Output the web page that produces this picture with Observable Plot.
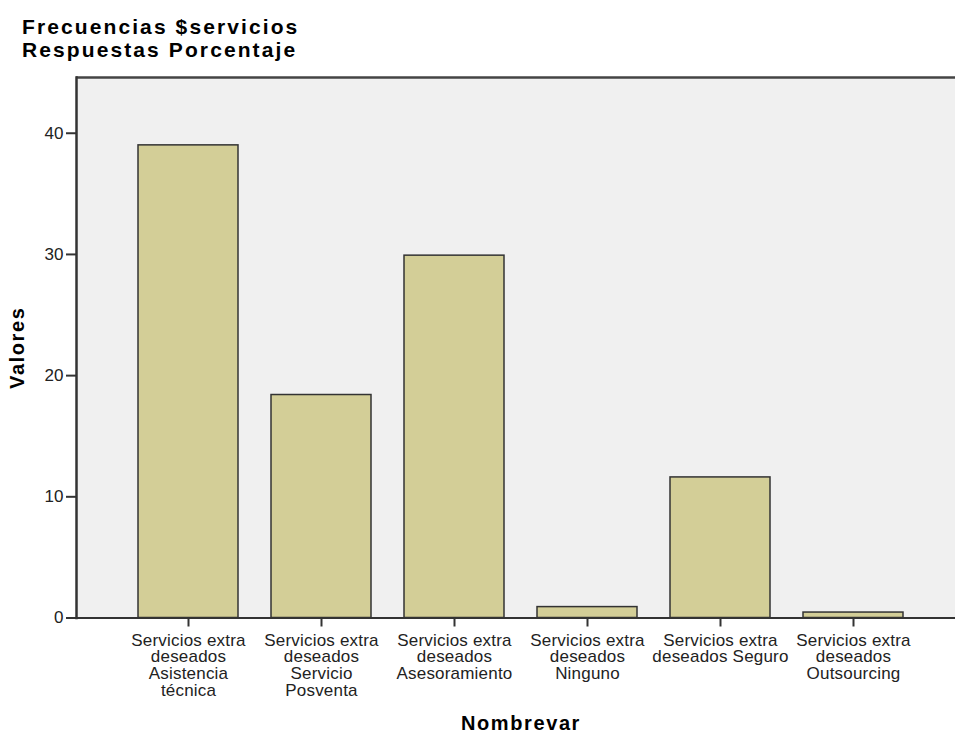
<!DOCTYPE html>
<html>
<head>
<meta charset="utf-8">
<script src="https://cdn.jsdelivr.net/npm/d3@7"></script>
<script src="https://cdn.jsdelivr.net/npm/@observablehq/plot@0.6"></script>
<style>
  body { margin: 0; background: #fff; font-family: "Liberation Sans", Arial, sans-serif; }
  #wrap { position: relative; width: 955px; height: 735px; }
  #title { position: absolute; left: 22px; top: 15px; font-weight: bold; font-size: 21px; line-height: 23px; letter-spacing: 2.1px; color: #000; }
  #chart { position: absolute; left: 0; top: 0; }
</style>
</head>
<body>
<div id="wrap">
  <div id="chart"></div>
  <div id="title">Frecuencias $servicios<br>Respuestas Porcentaje</div>
</div>
<script>
const categories = ["Asistencia técnica", "Servicio Posventa", "Asesoramiento", "Ninguno", "Seguro", "Outsourcing"];
const values = [39.0, 18.4, 29.9, 0.9, 11.6, 0.45];
const tickLabels = [
  "Servicios extra\ndeseados\nAsistencia\ntécnica",
  "Servicios extra\ndeseados\nServicio\nPosventa",
  "Servicios extra\ndeseados\nAsesoramiento",
  "Servicios extra\ndeseados\nNinguno",
  "Servicios extra\ndeseados Seguro",
  "Servicios extra\ndeseados\nOutsourcing"
];
const yTicks = [0, 10, 20, 30, 40];
const yMax = 44.6;
const yLabel = "Valores";
const xLabel = "Nombrevar";

const data = categories.map((c, i) => ({cat: c, value: values[i]}));
const labelOf = new Map(categories.map((c, i) => [c, tickLabels[i]]));

const plot = Plot.plot({
  width: 955,
  height: 735,
  marginLeft: 76,
  marginRight: 0,
  marginTop: 77,
  marginBottom: 117.5,
  style: {fontFamily: "'Liberation Sans', Arial, sans-serif", background: "#fff"},
  x: {domain: categories, range: [120, 921.6], paddingInner: 0.25, paddingOuter: 0.125, align: 0.5},
  y: {domain: [0, yMax]},
  marks: [
    Plot.frame({fill: "#f0f0f0", stroke: null}),
    Plot.barY(data, {x: "cat", y: "value", fill: "#d3ce97", stroke: "#333", strokeWidth: 1.5, inset: 0}),
    Plot.ruleY([yMax], {stroke: "#444", strokeWidth: 2.5}),
    Plot.ruleY([0], {stroke: "#333", strokeWidth: 2}),
    Plot.frame({anchor: "left", stroke: "#333", strokeWidth: 2.5}),
    Plot.axisY({ticks: yTicks, tickSize: 10, tickPadding: 3, fontSize: 17, stroke: "#333", strokeWidth: 2, fill: "#222", label: null}),
    Plot.axisX({tickSize: 9, tickPadding: 7, fontSize: 17, lineHeight: 0.98, stroke: "#333", strokeWidth: 2, fill: "#222", label: null, tickFormat: d => labelOf.get(d)}),
    Plot.text([yLabel], {frameAnchor: "left", textAnchor: "middle", lineAnchor: "middle", dx: -59, rotate: -90, fontWeight: "bold", fontSize: 20, fill: "#000"}),
    Plot.text([xLabel], {frameAnchor: "bottom", textAnchor: "middle", lineAnchor: "middle", dx: 5, dy: 106, fontWeight: "bold", fontSize: 20, fill: "#000"})
  ]
});
document.getElementById("chart").appendChild(plot);
d3.select(plot).selectAll("text").filter(function() { return this.textContent === yLabel || this.textContent === xLabel; }).style("letter-spacing", "1.6px");
d3.select(plot).selectAll("g[aria-label='x-axis tick label'] text").style("letter-spacing", "0.2px");
</script>
</body>
</html>
